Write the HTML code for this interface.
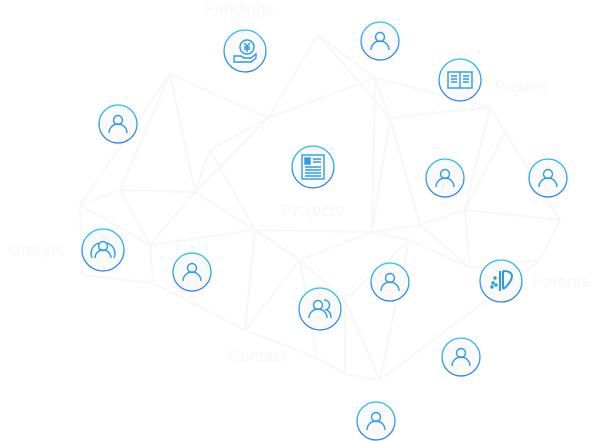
<!DOCTYPE html>
<html><head><meta charset="utf-8"><style>
html,body{margin:0;padding:0;background:#fff;width:600px;height:441px;overflow:hidden}
svg{display:block}
text{font-family:"Liberation Sans",sans-serif}
</style></head><body>
<svg id="c" width="600" height="441" viewBox="0 0 600 441">
<defs>
<linearGradient id="g" x1="0" y1="0" x2="0" y2="1"><stop offset="0" stop-color="#22c3ee"/><stop offset="1" stop-color="#2b7df0"/></linearGradient>
</defs>
<g id="mesh" stroke="#f7f7f7" stroke-width="2" fill="none"></g>
<g id="labels" fill="#f7f7f7" font-size="17">
<text x="204" y="14">Fundings</text>
<text x="494" y="92">Papers</text>
<text x="8" y="256">Groups</text>
<text x="532" y="287">Patents</text>
<text x="228" y="361">Contact</text>
<text x="282" y="216">Projects</text>
</g>
<g id="nodes"></g>
</svg>
<script>
const junctions=[[170,74],[268,118],[318,35],[375,78],[390,118],[490,107],[505,132],[120,190],[195,192],[80,205],[150,245],[255,230],[372,232],[420,225],[465,210],[560,220],[82,275],[153,283],[245,330],[317,358],[345,374],[380,380],[409,240],[470,268],[540,260],[210,150],[300,260],[345,300]];
const meshEdges=[[0,1],[0,7],[0,8],[1,2],[1,3],[1,25],[1,8],[2,3],[3,4],[3,5],[4,5],[5,6],[4,13],[4,12],[6,14],[6,15],[7,9],[7,8],[8,25],[25,1],[8,10],[9,10],[9,16],[10,17],[10,11],[11,12],[11,26],[12,13],[13,14],[14,15],[15,24],[14,23],[23,24],[22,23],[12,22],[16,17],[17,18],[11,18],[18,19],[19,20],[20,21],[19,26],[26,27],[27,20],[22,27],[22,21],[13,23],[8,11],[0,9],[2,4],[25,11],[24,21],[12,26],[3,12],[5,14],[7,10],[26,18],[27,21]];
const mesh=document.getElementById('mesh');
meshEdges.forEach(e=>{const a=junctions[e[0]],b=junctions[e[1]];
const l=document.createElementNS('http://www.w3.org/2000/svg','line');
l.setAttribute('x1',a[0]);l.setAttribute('y1',a[1]);l.setAttribute('x2',b[0]);l.setAttribute('y2',b[1]);


mesh.appendChild(l);});
const nodeX=[245,380,460,118,313,445,548,103,192,390,501,320,461,376];
const nodeY=[51,41,80,124,167,178,178,250,272,282,281,309,357,421];
const nodeR=[21,19,21,19,21,19,19,21,19,19,21,21,19,19];
const nodeType=['funding','person','paper','person','project','person','person','group','person','person','patent','group2','person','person'];
const icons={
person:'<circle cx="0" cy="-4" r="4.5"/><path d="M-9 9 A9 9 0 0 1 9 9"/>',
funding:'<circle cx="2" cy="-4" r="7"/><path d="M-1 -8 L2 -5 L5 -8 M2 -5 V1 M-1 -4 H5 M-1 -2 H5"/><path d="M-11 5 H-4 L-1 7 H6 L11 3 V7 L6 11 H-11 Z"/>',
paper:'<rect x="-12" y="-8" width="24" height="16"/><path d="M0 -8 V8 M-9 -4 H-3 M-9 -1 H-3 M-9 2 H-3 M3 -4 H9 M3 -1 H9 M3 2 H9"/>',
project:'<rect x="-11" y="-12" width="22" height="24"/><rect x="-8" y="-9" width="5" height="6" fill="#2b9be8"/><path d="M0 -8 H8 M0 -5 H8 M-8 0 H8 M-8 3 H8 M-8 6 H8 M-8 9 H8"/>',
group:'<circle cx="0" cy="-4" r="4.5"/><path d="M-8 8 A8 8 0 0 1 8 8 M-11 8 A11 11 0 0 1 -4 -7 M11 8 A11 11 0 0 0 4 -7"/>',
group2:'<circle cx="-2" cy="-4" r="4.5"/><path d="M-11 9 A9 9 0 0 1 7 9 M4 -9 A4.5 4.5 0 0 1 5 1 M7 1 A9 9 0 0 1 11 9"/>',
patent:'<path d="M-1 -10 V10 M2 -10 V8 M2 -10 Q14 -10 10 -1 Q6 6 2 8" stroke-width="2"/><circle cx="-6" cy="-3" r="1" fill="#2b9be8"/><circle cx="-8" cy="2" r="1" fill="#2b9be8"/><circle cx="-5" cy="4" r="1" fill="#2b9be8"/><circle cx="-9" cy="6" r="1" fill="#2b9be8"/>'
};
const ng=document.getElementById('nodes');
nodeX.forEach((x,i)=>{const g=document.createElementNS('http://www.w3.org/2000/svg','g');
g.setAttribute('transform','translate('+x+','+nodeY[i]+')');


g.innerHTML='<circle r="'+nodeR[i]+'" fill="#fafafa" stroke="url(#g)" stroke-width="1.3"/><g fill="none" stroke="#2b9be8" stroke-width="1.4">'+icons[nodeType[i]]+'</g>';
ng.appendChild(g);});
</script>
</body></html>
